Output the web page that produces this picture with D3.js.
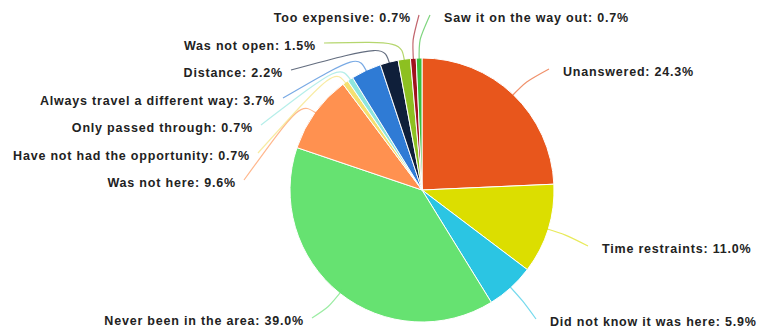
<!DOCTYPE html>
<html>
<head>
<meta charset="utf-8">
<script src="https://cdn.jsdelivr.net/npm/d3@7"></script>
<style>
  html, body { margin: 0; padding: 0; background: #fff; }
  svg { display: block; }
  .lbl { font-family: "Liberation Sans", Arial, sans-serif; font-weight: bold; font-size: 12.5px; fill: #222; letter-spacing: 0.8px; }
</style>
</head>
<body>
<svg id="chart" width="765" height="331"></svg>
<script>
// Survey answers, clockwise from 12 o'clock
const categories = [
  "Unanswered", "Time restraints", "Did not know it was here", "Never been in the area",
  "Was not here", "Have not had the opportunity", "Only passed through",
  "Always travel a different way", "Distance", "Was not open", "Too expensive",
  "Saw it on the way out"
];
const percentages = [24.3, 11.0, 5.9, 39.0, 9.6, 0.7, 0.7, 3.7, 2.2, 1.5, 0.7, 0.7];
const sliceColors = [
  "#E8561C", "#DCDE00", "#2BC5E3", "#66E271", "#FF9150", "#F5E070",
  "#8EE5DD", "#2F7BD5", "#0F1F3A", "#8DC021", "#A0121E", "#3BBF3B"
];

// Where each callout ends (leader end / text baseline) and its alignment
const labelLayout = [
  { x: 553, y: 76,  anchor: "start" },
  { x: 592, y: 253, anchor: "start" },
  { x: 540, y: 326, anchor: "start" },
  { x: 308, y: 325, anchor: "end" },
  { x: 240, y: 187, anchor: "end" },
  { x: 254, y: 160, anchor: "end" },
  { x: 257, y: 132, anchor: "end" },
  { x: 279, y: 105, anchor: "end" },
  { x: 287, y: 77,  anchor: "end" },
  { x: 320, y: 50,  anchor: "end" },
  { x: 415, y: 22,  anchor: "end" },
  { x: 434, y: 22,  anchor: "start" }
];

const data = categories.map((c, i) => ({ name: c, value: percentages[i], color: sliceColors[i], layout: labelLayout[i] }));

const svg = d3.select("#chart");
const cx = 422, cy = 190, radius = 132;
const g = svg.append("g").attr("transform", `translate(${cx},${cy})`);

const pie = d3.pie().value(d => d.value).sort(null);
const arc = d3.arc().innerRadius(0).outerRadius(radius);
const arcs = pie(data);

g.selectAll("path.slice")
  .data(arcs)
  .join("path")
  .attr("class", "slice")
  .attr("d", arc)
  .attr("fill", d => d.data.color)
  .attr("stroke", "#fff")
  .attr("stroke-width", 1);

// Leader lines: leave the slice radially, then bend toward the label
function polar(a, r) { return [r * Math.sin(a), -r * Math.cos(a)]; }
g.selectAll("path.leader")
  .data(arcs)
  .join("path")
  .attr("class", "leader")
  .attr("fill", "none")
  .attr("stroke", d => d.data.color)
  .attr("stroke-opacity", 0.65)
  .attr("stroke-width", 1.2)
  .attr("d", d => {
    const a = (d.startAngle + d.endAngle) / 2;
    const p0 = polar(a, radius - 4);
    const p1 = polar(a, radius + 18);
    const L = d.data.layout;
    const end = [L.x - cx + (L.anchor === "start" ? -4 : 4), L.y - cy - 7];
    const p = d3.path();
    p.moveTo(p0[0], p0[1]);
    p.bezierCurveTo(p1[0], p1[1], p1[0], p1[1], end[0], end[1]);
    return p.toString();
  });

svg.selectAll("text.lbl")
  .data(arcs)
  .join("text")
  .attr("class", "lbl")
  .attr("x", d => d.data.layout.x + (d.data.layout.anchor === "start" ? 10 : -4))
  .attr("y", d => d.data.layout.y)
  .attr("text-anchor", d => d.data.layout.anchor)
  .text(d => `${d.data.name}: ${d3.format(".1f")(d.data.value)}%`);
</script>
</body>
</html>
